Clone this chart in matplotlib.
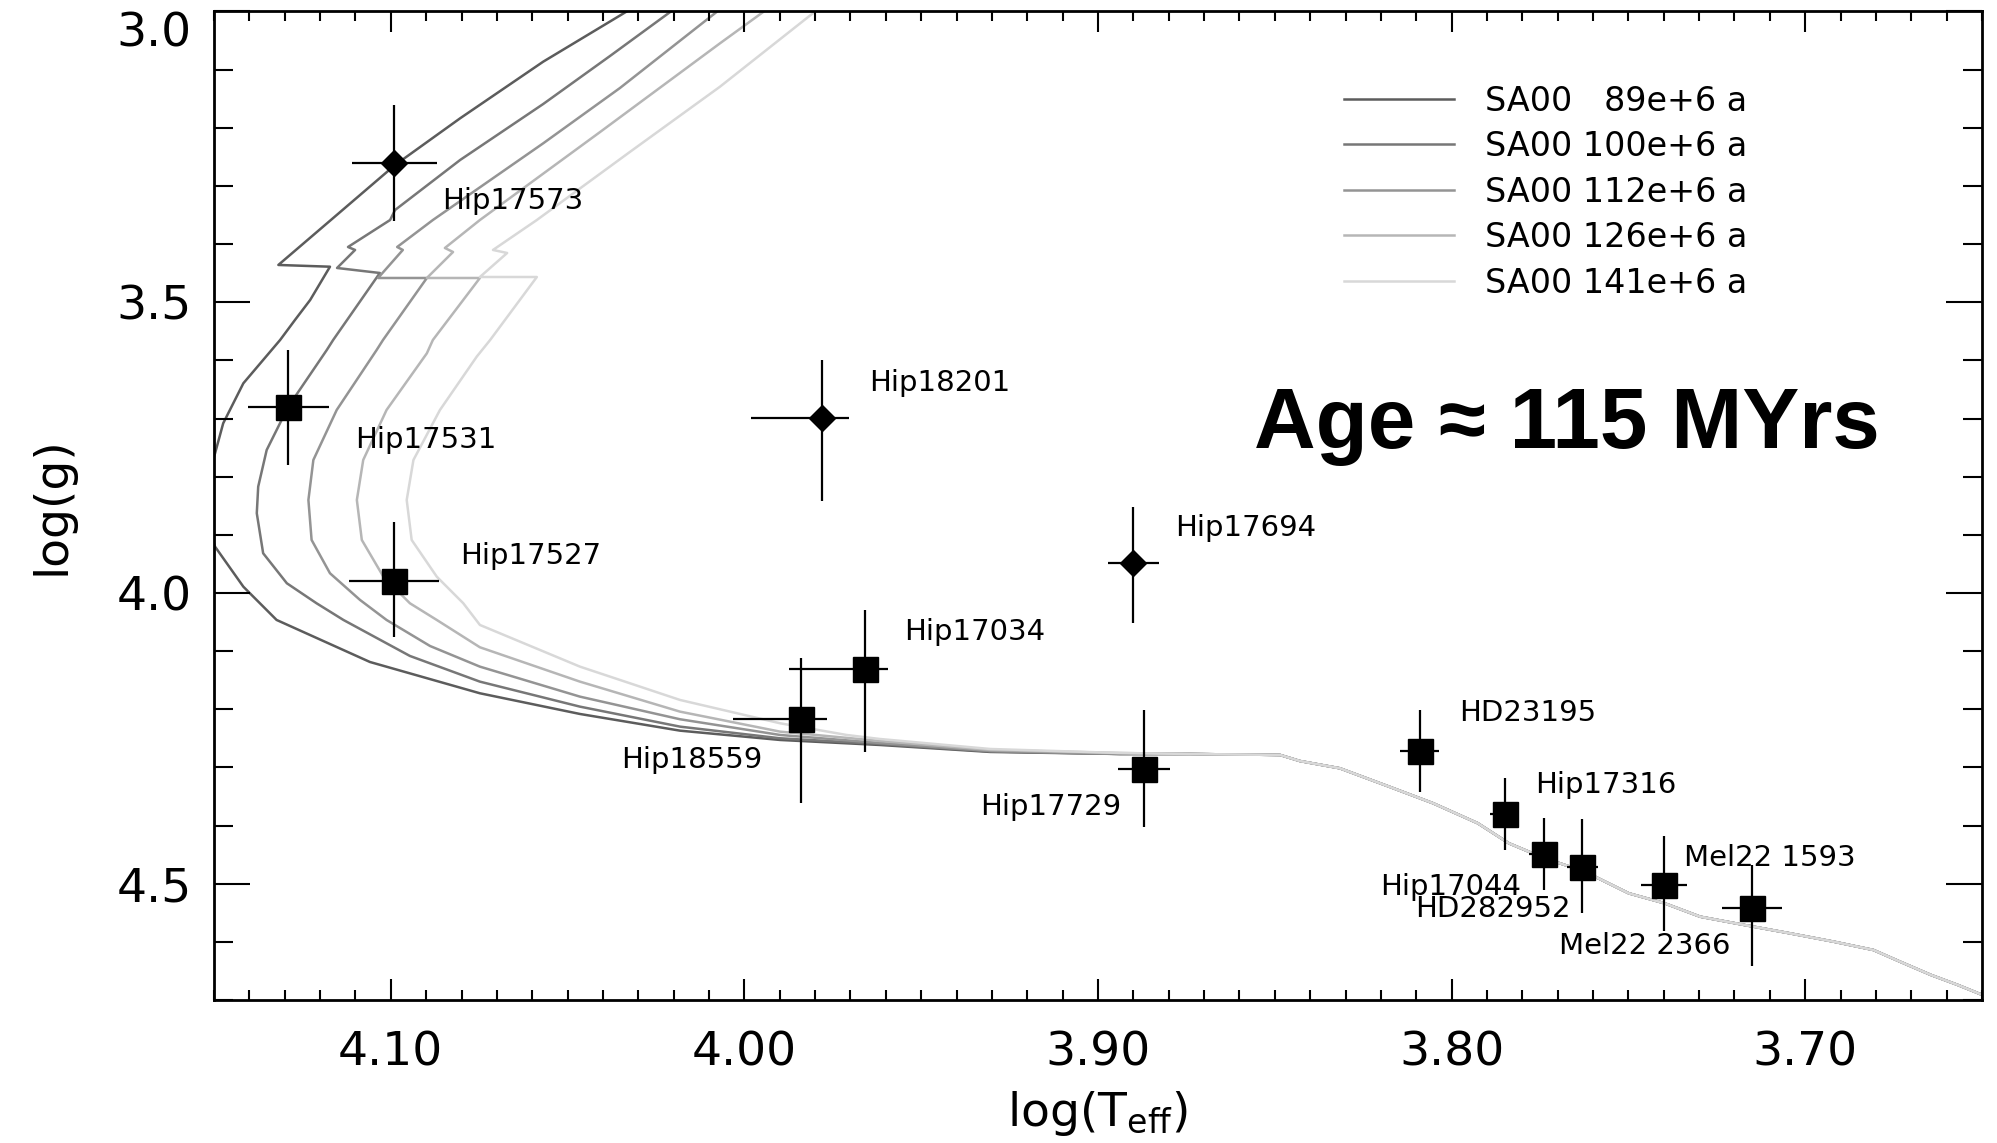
import numpy as np
import matplotlib
matplotlib.use("Agg")
import matplotlib.pyplot as plt
from matplotlib.ticker import MultipleLocator, FormatStrFormatter

# --- isochrones (log Teff, log g), read along each track ---
# shared lower main sequence, from the kink down to the cool end
ms_logt = [3.8485, 3.8429, 3.8316, 3.8177, 3.8052, 3.7926, 3.7838, 3.7738, 3.7624,
           3.7499, 3.7398, 3.7297, 3.7172, 3.7046, 3.6920, 3.6807, 3.6732, 3.6644,
           3.6569, 3.6500]
ms_logg = [4.2786, 4.2890, 4.3015, 4.3330, 4.3617, 4.3960, 4.4305, 4.4560, 4.4790,
           4.5165, 4.5336, 4.5567, 4.5710, 4.5850, 4.5996, 4.6140, 4.6340, 4.6570,
           4.6740, 4.6910]

iso_89_logt = [4.0333, 4.0569, 4.0804, 4.0988, 4.1153, 4.1318, 4.1172, 4.1228, 4.1271,
               4.1313, 4.1417, 4.1474, 4.1497, 4.1540, 4.1497, 4.1417, 4.1323, 4.1059,
               4.0748, 4.0465, 4.0182, 3.9899, 3.9617, 3.9305, 3.8938, 3.8740]
iso_89_logg = [3.0000, 3.0863, 3.1837, 3.2640, 3.3500, 3.4359, 3.4389, 3.4961, 3.5305,
               3.5649, 3.6394, 3.7082, 3.7598, 3.8401, 3.9204, 3.9892, 4.0464, 4.1187,
               4.1725, 4.2081, 4.2368, 4.2528, 4.2614, 4.2734, 4.2769, 4.2769]

iso_100_logt = [4.0208, 4.0380, 4.0569, 4.0804, 4.0988, 4.1002, 4.1121, 4.1101, 4.1152,
                4.1031, 4.1163, 4.1181, 4.1290, 4.1351, 4.1375, 4.1379, 4.1361, 4.1294,
                4.1210, 4.1134, 4.0946, 4.0748, 4.0465, 4.0182, 3.9899, 3.9617, 3.9305,
                3.8938, 3.8740]
iso_100_logg = [3.0000, 3.0765, 3.1591, 3.2554, 3.3414, 3.3586, 3.4050, 3.4101, 3.4411,
                3.4497, 3.5649, 3.5821, 3.6796, 3.7541, 3.8172, 3.8629, 3.9317, 3.9833,
                4.0177, 4.0464, 4.1083, 4.1525, 4.1955, 4.2299, 4.2499, 4.2597, 4.2726,
                4.2769, 4.2769]

iso_112_logt = [4.0077, 4.0352, 4.0569, 4.0881, 4.0982, 4.0966, 4.1036, 4.0898, 4.1022,
                4.1040, 4.1153, 4.1219, 4.1233, 4.1224, 4.1172, 4.1087, 4.1012, 4.0889,
                4.0748, 4.0465, 4.0182, 3.9899, 3.9617, 3.9305, 3.8938, 3.8740]
iso_112_logg = [3.0000, 3.1316, 3.2267, 3.3586, 3.4050, 3.4101, 3.4583, 3.4583, 3.5649,
                3.5821, 3.6853, 3.7713, 3.8401, 3.9088, 3.9661, 4.0120, 4.0464, 4.0912,
                4.1267, 4.1783, 4.2172, 4.2442, 4.2580, 4.2717, 4.2769, 4.2769]

iso_126_logt = [3.9945, 4.0069, 4.0408, 4.0748, 4.0847, 4.0824, 4.0898, 4.0748, 4.0881,
                4.0898, 4.1012, 4.1078, 4.1096, 4.1082, 4.1021, 4.0946, 4.0870, 4.0748,
                4.0465, 4.0182, 3.9899, 3.9617, 3.9305, 3.8938, 3.8740]
iso_126_logg = [3.0000, 3.0547, 3.2072, 3.3586, 3.4067, 3.4136, 3.4583, 3.4583, 3.5649,
                3.5878, 3.6853, 3.7713, 3.8401, 3.9088, 3.9720, 4.0177, 4.0464, 4.0934,
                4.1525, 4.2041, 4.2385, 4.2545, 4.2700, 4.2752, 4.2769]

iso_141_logt = [3.9800, 4.0069, 4.0324, 4.0587, 4.0711, 4.0671, 4.0748, 4.0587, 4.0719,
                4.0757, 4.0861, 4.0936, 4.0955, 4.0941, 4.0870, 4.0795, 4.0748, 4.0465,
                4.0182, 3.9899, 3.9711, 3.9617, 3.9305, 3.8938, 3.8740]
iso_141_logg = [3.0000, 3.1293, 3.2416, 3.3586, 3.4101, 3.4153, 3.4566, 3.4566, 3.5649,
                3.5936, 3.6853, 3.7713, 3.8401, 3.9088, 3.9720, 4.0177, 4.0550, 4.1267,
                4.1840, 4.2241, 4.2442, 4.2511, 4.2683, 4.2752, 4.2769]

iso_labels = ["SA00 \u200789e+6 a", "SA00 100e+6 a", "SA00 112e+6 a",
              "SA00 126e+6 a", "SA00 141e+6 a"]
iso_colors = ["#5c5c5c", "#777777", "#949494", "#b6b6b6", "#d8d8d8"]

# --- Pleiades stars ---
star_names = ["Hip17573", "Hip17531", "Hip17527", "Hip18201", "Hip17694", "Hip17034",
              "Hip18559", "Hip17729", "HD23195", "Hip17316", "Hip17044", "HD282952",
              "Mel22 1593", "Mel22 2366"]
star_logt = [4.099, 4.129, 4.099, 3.978, 3.890, 3.966, 3.984, 3.887, 3.809, 3.785,
             3.774, 3.763, 3.740, 3.715]
star_logg = [3.261, 3.681, 3.979, 3.699, 3.948, 4.131, 4.216, 4.302, 4.272, 4.380,
             4.449, 4.471, 4.502, 4.541]
# cooler / hotter side of log Teff
star_dt_cool = [0.012, 0.0115, 0.0127, 0.0075, 0.0072, 0.0066, 0.0075, 0.0074, 0.0055,
                0.0040, 0.0041, 0.0045, 0.0065, 0.0085]
star_dt_hot = [0.012, 0.0115, 0.0127, 0.0200, 0.0072, 0.0213, 0.0192, 0.0074, 0.0055,
               0.0040, 0.0041, 0.0045, 0.0065, 0.0085]
# lower / higher log g
star_dg_lo = [0.100, 0.099, 0.101, 0.100, 0.096, 0.102, 0.104, 0.100, 0.071, 0.062,
              0.062, 0.083, 0.084, 0.073]
star_dg_hi = [0.100, 0.099, 0.097, 0.142, 0.103, 0.142, 0.146, 0.100, 0.071, 0.062,
              0.062, 0.080, 0.080, 0.101]
star_marker = ["D", "s", "s", "D", "D", "s", "s", "s", "s", "s", "s", "s", "s", "s"]
# label anchor (left edge, vertical centre) in data units
label_logt = [4.0855, 4.1101, 4.0804, 3.9647, 3.8782, 3.9547, 4.0348, 3.9333, 3.7979,
              3.7765, 3.8202, 3.8104, 3.7342, 3.7696]
label_logg = [3.326, 3.737, 3.936, 3.639, 3.889, 4.067, 4.287, 4.368, 4.207, 4.330,
              4.505, 4.544, 4.456, 4.607]

tracks = [(iso_89_logt, iso_89_logg), (iso_100_logt, iso_100_logg),
          (iso_112_logt, iso_112_logg), (iso_126_logt, iso_126_logg),
          (iso_141_logt, iso_141_logg)]

fig = plt.figure(figsize=(19.97, 11.43), dpi=100)
ax = fig.add_axes([0.10716, 0.12511, 0.88533, 0.86483])

handles = []
for (lt, lg), col, lab in zip(tracks, iso_colors, iso_labels):
    x = list(lt) + ms_logt
    y = list(lg) + ms_logg
    h, = ax.plot(x, y, color=col, lw=1.8, label=lab, zorder=1)
    handles.append(h)

for i in range(len(star_names)):
    ax.errorbar([star_logt[i]], [star_logg[i]],
                xerr=[[star_dt_cool[i]], [star_dt_hot[i]]],
                yerr=[[star_dg_lo[i]], [star_dg_hi[i]]],
                fmt=star_marker[i], color="black",
                ms=13.5 if star_marker[i] == "D" else 18,
                elinewidth=1.6, capsize=0, zorder=3)
    ax.text(label_logt[i], label_logg[i], star_names[i], fontsize=21,
            ha="left", va="center", color="black", zorder=4)

ax.set_xlim(4.15, 3.65)
ax.set_ylim(4.70, 3.00)

ax.xaxis.set_major_locator(MultipleLocator(0.1))
ax.xaxis.set_minor_locator(MultipleLocator(0.01))
ax.yaxis.set_major_locator(MultipleLocator(0.5))
ax.yaxis.set_minor_locator(MultipleLocator(0.1))
ax.xaxis.set_major_formatter(FormatStrFormatter("%.2f"))
ax.yaxis.set_major_formatter(FormatStrFormatter("%.1f"))

ax.tick_params(which="both", direction="in", top=True, right=True, width=1.5,
               labelsize=34)
ax.tick_params(axis="x", which="major", length=15, pad=22)
ax.tick_params(axis="x", which="minor", length=7.5)
ax.tick_params(axis="y", which="major", length=26, pad=16)
ax.tick_params(axis="y", which="minor", length=13.5)
for sp in ax.spines.values():
    sp.set_linewidth(2)

ax.set_xlabel("log(T$_{\\mathrm{eff}}$)", fontsize=34, labelpad=10)
ax.set_ylabel("log(g)", fontsize=34, labelpad=30)

ax.legend(handles=handles, loc="upper left", bbox_to_anchor=(0.639, 0.926),
          frameon=False, fontsize=24, handlelength=3.3, handletextpad=0.95,
          labelspacing=0.375, borderpad=0, borderaxespad=0)

ax.text(0.5885, 0.5584, "Age \u2248 115 MYrs", transform=ax.transAxes,
        fontsize=61.5, fontweight="bold", family=["Liberation Sans", "DejaVu Sans"],
        ha="left", va="baseline")

# the top y label sits just under the frame instead of centred on it
fig.canvas.draw()
for tick in ax.yaxis.get_major_ticks():
    if tick.label1.get_text() == "3.0":
        tick.label1.set_verticalalignment("top")

fig.savefig("out.png", dpi=100)
